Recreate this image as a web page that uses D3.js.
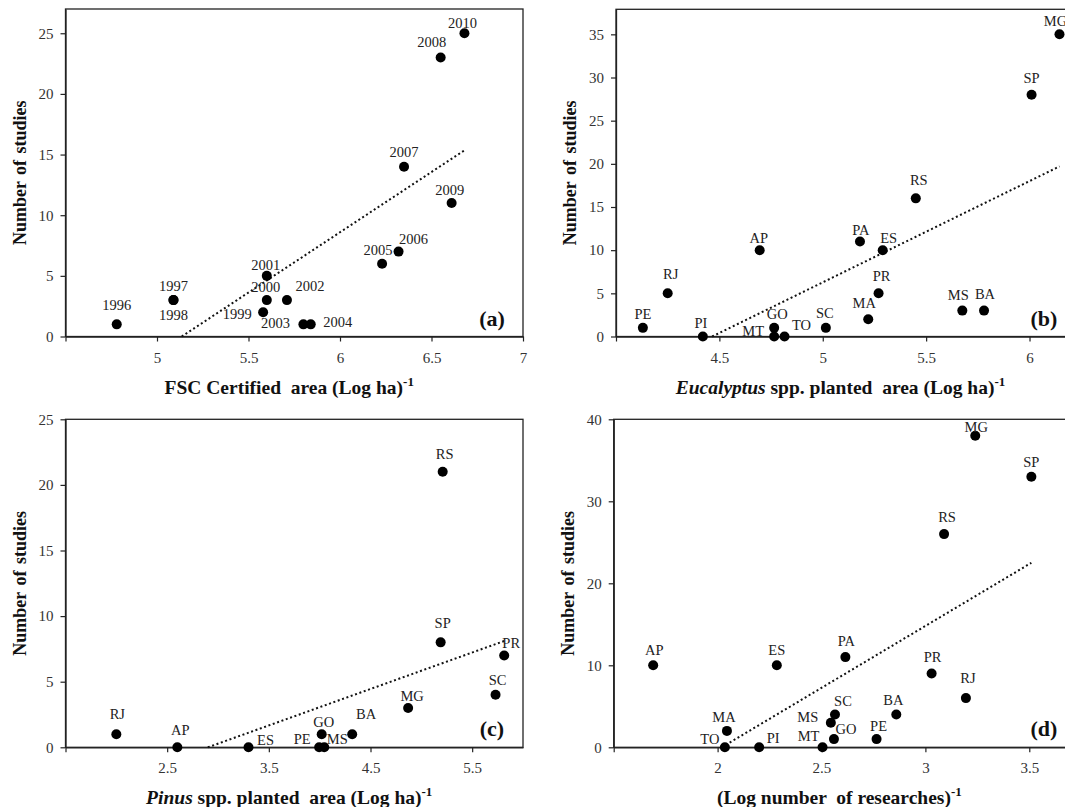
<!DOCTYPE html>
<html lang="en">
<head>
  <meta charset="UTF-8">
  <title>Number of studies</title>
  <script src="https://cdn.jsdelivr.net/npm/d3@7"></script>
  <style>
    body { margin: 0; background: #fff; }
    svg text { font-family: "Liberation Serif", "Times New Roman", serif; }
  </style>
</head>
<body>
<svg id="chart" width="1065" height="807"></svg>
<script>
  // (a) FSC certified area per year
  var yearsA = ["1996","1997","1998","1999","2000","2001","2002","2003","2004","2005","2006","2007","2008","2009","2010"];
  var xA = [4.78, 5.09, 5.09, 5.58, 5.60, 5.60, 5.71, 5.80, 5.84, 6.23, 6.32, 6.35, 6.55, 6.61, 6.68];
  var yA = [1, 3, 3, 2, 3, 5, 3, 1, 1, 6, 7, 14, 23, 11, 25];
  var trendA = [[5.135, 0], [6.68, 15.35]];
  var xTicksA = [5, 5.5, 6, 6.5, 7];
  var yTicksA = [0, 5, 10, 15, 20, 25];

  // (b) Eucalyptus planted area per state
  var statesB = ["PE","RJ","PI","AP","GO","MT","TO","SC","MA","PR","PA","ES","RS","MS","BA","SP","MG"];
  var xB = [4.13, 4.25, 4.42, 4.695, 4.765, 4.765, 4.815, 5.015, 5.22, 5.27, 5.18, 5.29, 5.45, 5.675, 5.78, 6.01, 6.145];
  var yB = [1, 5, 0, 10, 1, 0, 0, 1, 2, 5, 11, 10, 16, 3, 3, 28, 35];
  var trendB = [[4.465, 0], [6.145, 19.7]];
  var xTicksB = [4.5, 5, 5.5, 6];
  var yTicksB = [0, 5, 10, 15, 20, 25, 30, 35];

  // (c) Pinus planted area per state
  var statesC = ["RJ","AP","ES","PE","MS","GO","BA","MG","SP","RS","SC","PR"];
  var xC = [2.0, 2.6, 3.3, 3.995, 4.045, 4.02, 4.32, 4.87, 5.19, 5.21, 5.73, 5.815];
  var yC = [1, 0, 0, 0, 0, 1, 1, 3, 8, 21, 4, 7];
  var trendC = [[2.9, 0], [5.815, 8.1]];
  var xTicksC = [2.5, 3.5, 4.5, 5.5];
  var yTicksC = [0, 5, 10, 15, 20, 25];

  // (d) number of researches per state
  var statesD = ["AP","MA","TO","PI","ES","MT","MS","SC","GO","PA","PE","BA","PR","RS","RJ","MG","SP"];
  var xD = [1.69, 2.045, 2.035, 2.2, 2.285, 2.505, 2.545, 2.565, 2.56, 2.615, 2.765, 2.86, 3.03, 3.09, 3.195, 3.24, 3.51];
  var yD = [10, 2, 0, 0, 10, 0, 3, 4, 1, 11, 1, 4, 9, 26, 6, 38, 33];
  var trendD = [[2.02, 0], [3.51, 22.5]];
  var xTicksD = [2, 2.5, 3, 3.5];
  var yTicksD = [0, 10, 20, 30, 40];

  // label nudges in px (label centre relative to the dot)
  var nudgeA = {"1996":[0,-19],"1997":[0,-14],"1998":[0,15],"1999":[-26,2],"2000":[-1,-13],"2001":[-1,-11],
    "2002":[23,-14],"2003":[-28,-1],"2004":[27,-2],"2005":[-4,-14],"2006":[15,-13],"2007":[0,-15],
    "2008":[-9,-16],"2009":[-2,-13],"2010":[-2,-10]};
  var nudgeB = {"PE":[0,-14],"RJ":[3,-19],"PI":[-2,-14],"AP":[-1,-12],"GO":[3,-14],"MT":[-21,-6],"TO":[17,-12],
    "SC":[-1,-15],"MA":[-4,-16],"PR":[3,-17],"PA":[1,-12],"ES":[6,-12],"RS":[3,-18],"MS":[-4,-16],
    "BA":[1,-17],"SP":[0,-17],"MG":[-4,-13]};
  var nudgeC = {"RJ":[1,-20],"AP":[3,-17],"ES":[17,-7],"PE":[-17,-8],"MS":[13,-8],"GO":[2,-12],"BA":[14,-20],
    "MG":[4,-12],"SP":[2,-19],"RS":[2,-18],"SC":[2,-15],"PR":[7,-12]};
  var nudgeD = {"AP":[1,-15],"MA":[-3,-14],"TO":[-15,-8],"PI":[14,-9],"ES":[0,-15],"MT":[-14,-11],"MS":[-23,-6],
    "SC":[8,-14],"GO":[12,-10],"PA":[1,-16],"PE":[2,-13],"BA":[-3,-15],"PR":[1,-17],"RS":[3,-17],
    "RJ":[2,-20],"MG":[1,-9],"SP":[0,-15]};

  var panels = [
    { tag: "(a)", names: yearsA, xs: xA, ys: yA, trend: trendA, xTicks: xTicksA, yTicks: yTicksA, nudge: nudgeA,
      box: [65.5, 9, 523, 336.5], xDom: [4.5, 7], yDom: [0, 27],
      title: [["FSC Certified  area (Log ha)", "normal"]] },
    { tag: "(b)", names: statesB, xs: xB, ys: yB, trend: trendB, xTicks: xTicksB, yTicks: yTicksB, nudge: nudgeB,
      box: [616, 9.3, 1075, 336.5], xDom: [4, 6.22], yDom: [0, 37.9],
      title: [["Eucalyptus", "italic"], [" spp. planted  area (Log ha)", "normal"]] },
    { tag: "(c)", names: statesC, xs: xC, ys: yC, trend: trendC, xTicks: xTicksC, yTicks: yTicksC, nudge: nudgeC,
      box: [65.5, 419.3, 523, 747.3], xDom: [1.5, 6], yDom: [0, 25],
      title: [["Pinus", "italic"], [" spp. planted  area (Log ha)", "normal"]] },
    { tag: "(d)", names: statesD, xs: xD, ys: yD, trend: trendD, xTicks: xTicksD, yTicks: yTicksD, nudge: nudgeD,
      box: [613.7, 419.3, 1075, 747.3], xDom: [1.5, 3.72], yDom: [0, 40],
      title: [["(Log number  of researches)", "normal"]] }
  ];

  var svg = d3.select("#chart");
  var ink = "#222";

  panels.forEach(function(p) {
    var x0 = p.box[0], y0 = p.box[1], x1 = p.box[2], y1 = p.box[3];
    var x = d3.scaleLinear().domain(p.xDom).range([x0, x1]);
    var y = d3.scaleLinear().domain(p.yDom).range([y1, y0]);
    var g = svg.append("g");

    // frame
    g.append("rect")
      .attr("x", x0).attr("y", y0)
      .attr("width", x1 - x0).attr("height", y1 - y0)
      .attr("fill", "none").attr("stroke", ink).attr("stroke-width", 1.3);

    // axes
    var xAxis = d3.axisBottom(x).tickValues([p.xDom[0]].concat(p.xTicks)).tickSize(5).tickSizeOuter(0)
      .tickFormat(function(d) { return d === p.xDom[0] ? "" : d3.format("")(d); });
    var gx = g.append("g").attr("transform", "translate(0," + y1 + ")").call(xAxis);
    var yAxis = d3.axisLeft(y).tickValues(p.yTicks).tickSize(5).tickSizeOuter(0);
    var gy = g.append("g").attr("transform", "translate(" + x0 + ",0)").call(yAxis);
    [gx, gy].forEach(function(a) {
      a.select(".domain").attr("stroke", ink).attr("stroke-width", 1.3);
      a.selectAll(".tick line").attr("stroke", ink).attr("stroke-width", 1.2);
      a.selectAll(".tick text").attr("fill", "#333").style("font-size", "15px")
        .style("font-family", "'Liberation Serif', serif");
    });
    gx.selectAll(".tick text").attr("dy", null).attr("y", 26);
    gy.selectAll(".tick text").attr("x", -12);

    // trend line
    g.append("line")
      .attr("x1", x(p.trend[0][0])).attr("y1", y(p.trend[0][1]))
      .attr("x2", x(p.trend[1][0])).attr("y2", y(p.trend[1][1]))
      .attr("stroke", "#111").attr("stroke-width", 2).attr("stroke-dasharray", "2 2.6");

    // points
    g.selectAll("circle.pt").data(p.names).enter().append("circle")
      .attr("class", "pt")
      .attr("cx", function(d, i) { return x(p.xs[i]); })
      .attr("cy", function(d, i) { return y(p.ys[i]); })
      .attr("r", 5).attr("fill", "#000");

    g.selectAll("text.lbl").data(p.names).enter().append("text")
      .attr("class", "lbl")
      .attr("x", function(d, i) { return x(p.xs[i]) + p.nudge[d][0]; })
      .attr("y", function(d, i) { return y(p.ys[i]) + p.nudge[d][1] + 5; })
      .attr("text-anchor", "middle")
      .attr("fill", "#222")
      .style("font-size", "14.5px")
      .text(function(d) { return d; });

    // panel tag
    g.append("text")
      .attr("x", x1 - 31).attr("y", y1 - 11)
      .attr("text-anchor", "middle")
      .style("font-size", "22px").style("font-weight", "bold")
      .attr("fill", "#111")
      .text(p.tag);

    // y title
    g.append("text")
      .attr("transform", "translate(" + (x0 - 46) + "," + ((y0 + y1) / 2) + ") rotate(-90)")
      .attr("text-anchor", "middle").attr("dominant-baseline", "central")
      .style("font-size", "18px").style("font-weight", "bold").style("word-spacing", "2px")
      .attr("fill", "#111")
      .text("Number of studies");

    // x title
    var t = g.append("text")
      .attr("x", (x0 + x1) / 2 - 5).attr("y", y1 + 57)
      .attr("text-anchor", "middle")
      .style("font-size", "19.5px").style("font-weight", "bold").style("white-space", "pre")
      .attr("fill", "#111");
    p.title.forEach(function(part) {
      t.append("tspan").style("font-style", part[1]).text(part[0]);
    });
    t.append("tspan").attr("dy", -8).style("font-size", "13px").text("-1");
  });
</script>
</body>
</html>
